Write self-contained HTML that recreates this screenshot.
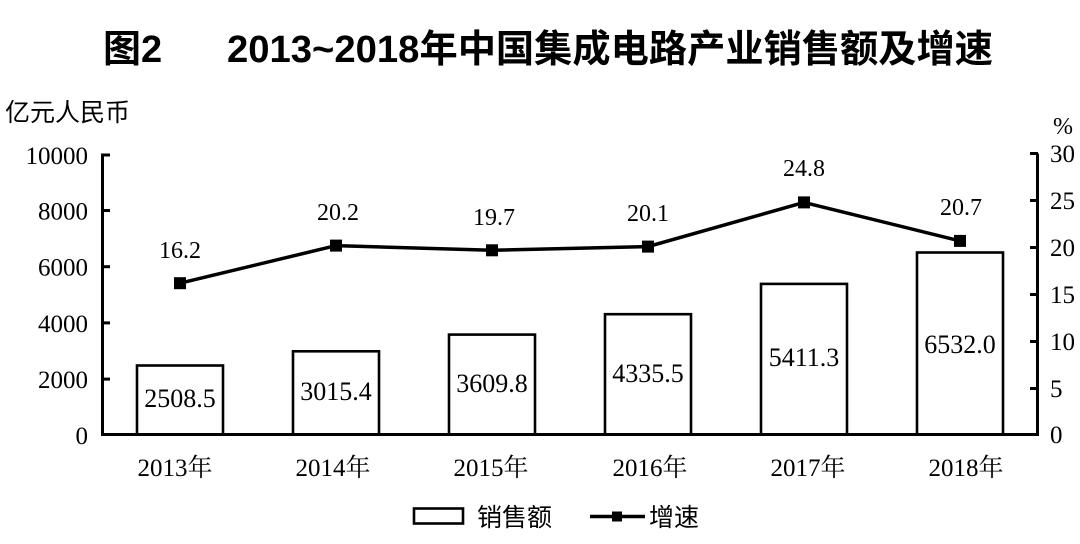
<!DOCTYPE html>
<html>
<head>
<meta charset="utf-8">
<style>
html,body{margin:0;padding:0;background:#fff;}
svg{display:block;}
.serif{font-family:"Liberation Serif","Noto Serif CJK SC","Noto Sans CJK SC",serif;}
.sans{font-family:"Liberation Sans","Noto Sans CJK SC",sans-serif;}
</style>
</head>
<body>
<svg width="1080" height="544" viewBox="0 0 1080 544" xmlns="http://www.w3.org/2000/svg">
<rect width="1080" height="544" fill="#fff"/>
<!-- Title -->
<text class="sans" x="103" y="62" font-size="38" font-weight="bold" fill="#000">图2</text>
<text class="sans" x="227" y="62" font-size="38" font-weight="bold" fill="#000" textLength="766" lengthAdjust="spacingAndGlyphs">2013~2018年中国集成电路产业销售额及增速</text>
<!-- axis titles -->
<text class="sans" x="5" y="121" font-size="25" fill="#000">亿元人民币</text>
<text class="serif" x="1053" y="134" font-size="24" fill="#000">%</text>

<!-- Bars -->
<g fill="#fff" stroke="#000" stroke-width="2.6">
<rect x="137" y="365.5" width="86" height="69"/>
<rect x="293" y="351.3" width="86" height="83.2"/>
<rect x="449" y="334.6" width="86" height="99.9"/>
<rect x="605" y="314.2" width="86" height="120.3"/>
<rect x="761" y="283.9" width="86" height="150.6"/>
<rect x="917" y="252.5" width="86" height="182"/>
</g>

<!-- Axes -->
<g stroke="#000" stroke-width="3" fill="none">
<line x1="102.5" y1="153.5" x2="102.5" y2="436"/>
<line x1="1037.5" y1="153.5" x2="1037.5" y2="436"/>
<line x1="101" y1="434.5" x2="1039" y2="434.5"/>
<!-- left ticks -->
<line x1="102" y1="155" x2="110" y2="155"/>
<line x1="102" y1="210.5" x2="110" y2="210.5"/>
<line x1="102" y1="266.7" x2="110" y2="266.7"/>
<line x1="102" y1="322.9" x2="110" y2="322.9"/>
<line x1="102" y1="379.1" x2="110" y2="379.1"/>
<!-- right ticks -->
<line x1="1030" y1="153.5" x2="1038" y2="153.5"/>
<line x1="1030" y1="200.5" x2="1038" y2="200.5"/>
<line x1="1030" y1="247.5" x2="1038" y2="247.5"/>
<line x1="1030" y1="294.5" x2="1038" y2="294.5"/>
<line x1="1030" y1="341.5" x2="1038" y2="341.5"/>
<line x1="1030" y1="388.5" x2="1038" y2="388.5"/>
</g>

<!-- Left tick labels -->
<g class="serif" font-size="25" fill="#000" text-anchor="end">
<text x="88" y="164">10000</text>
<text x="88" y="219.5">8000</text>
<text x="88" y="275.7">6000</text>
<text x="88" y="331.9">4000</text>
<text x="88" y="388.1">2000</text>
<text x="88" y="444">0</text>
</g>
<!-- Right tick labels -->
<g class="serif" font-size="25" fill="#000" text-anchor="start">
<text x="1050" y="162">30</text>
<text x="1050" y="209">25</text>
<text x="1050" y="256">20</text>
<text x="1050" y="303">15</text>
<text x="1050" y="350">10</text>
<text x="1050" y="397">5</text>
<text x="1050" y="443">0</text>
</g>

<!-- Bar labels -->
<g class="serif" font-size="26" fill="#000" text-anchor="middle">
<text x="180" y="407">2508.5</text>
<text x="336" y="400">3015.4</text>
<text x="492" y="392">3609.8</text>
<text x="648" y="382">4335.5</text>
<text x="804" y="366">5411.3</text>
<text x="960" y="353">6532.0</text>
</g>

<!-- Line series -->
<polyline points="180,283.2 336,245.6 492,250.3 648,246.6 804,202.4 960,240.9" fill="none" stroke="#000" stroke-width="3.5" stroke-linejoin="miter"/>
<g fill="#000">
<rect x="174" y="277.2" width="12" height="12"/>
<rect x="330" y="239.6" width="12" height="12"/>
<rect x="486" y="244.3" width="12" height="12"/>
<rect x="642" y="240.6" width="12" height="12"/>
<rect x="798" y="196.4" width="12" height="12"/>
<rect x="954" y="234.9" width="12" height="12"/>
</g>
<g class="serif" font-size="24" fill="#000" text-anchor="middle">
<text x="180" y="258">16.2</text>
<text x="338" y="220">20.2</text>
<text x="494" y="225">19.7</text>
<text x="648" y="221">20.1</text>
<text x="804" y="176">24.8</text>
<text x="961" y="215">20.7</text>
</g>

<!-- X labels -->
<g class="serif" font-size="25" fill="#000" text-anchor="middle">
<text x="175" y="476">2013年</text>
<text x="333" y="476">2014年</text>
<text x="491" y="476">2015年</text>
<text x="650" y="476">2016年</text>
<text x="808" y="476">2017年</text>
<text x="966" y="476">2018年</text>
</g>

<!-- Legend -->
<rect x="414" y="508.5" width="49" height="15" fill="#fff" stroke="#000" stroke-width="2.6"/>
<text class="sans" x="477" y="526" font-size="25" fill="#000">销售额</text>
<line x1="590" y1="516.5" x2="645" y2="516.5" stroke="#000" stroke-width="3.5"/>
<rect x="612" y="511.5" width="10" height="10" fill="#000"/>
<text class="sans" x="649" y="526" font-size="25" fill="#000">增速</text>
</svg>
</body>
</html>
